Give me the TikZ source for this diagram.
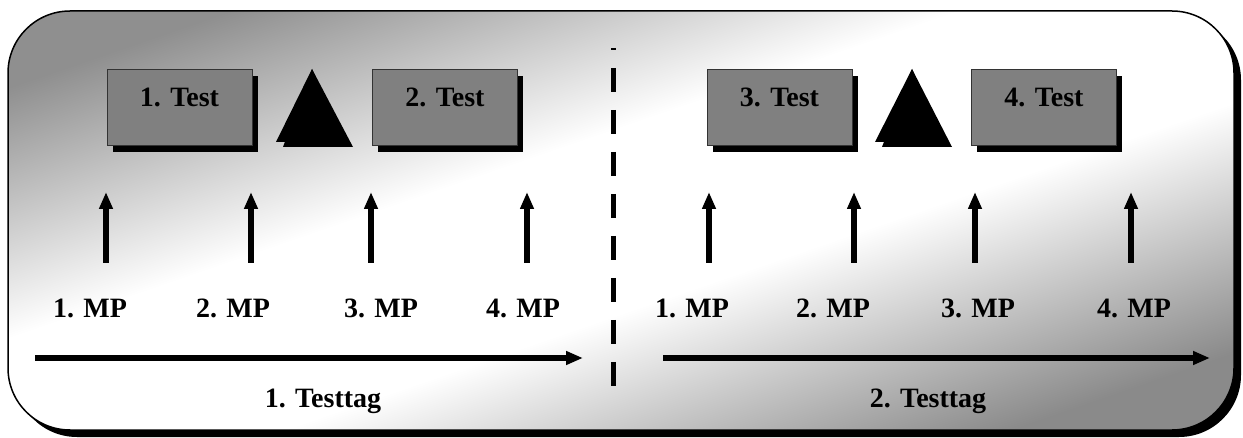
\documentclass[tikz,border=0pt]{standalone}
\usepackage{fontspec}
\setmainfont{Liberation Serif}
\usetikzlibrary{positioning,arrows.meta}
\tikzset{font=\fontsize{28}{32}\selectfont\bfseries}
\pgfdeclareverticalshading{framegrad}{100bp}{color(0bp)=(black!46); color(24bp)=(black!46); color(43bp)=(white); color(57bp)=(white); color(76bp)=(black!44); color(100bp)=(black!44)}

\begin{document}
\begin{tikzpicture}[x=1pt, y=-1pt]
	\tikzstyle{every node}=[align=center, inner sep=0pt]
	\tikzstyle{testbox}=[draw=black!80, line width=1pt, fill=black!50, minimum width=145pt, minimum height=76pt, text height=19pt, text depth=21pt]
	\tikzstyle{boxshadow}=[fill=black]
	\tikzstyle{mparrow}=[line width=6pt, -{Triangle[length=17pt, width=13pt]}]
	\tikzstyle{dayarrow}=[line width=6pt, -{Triangle[length=17pt, width=13pt]}]
	\useasboundingbox (0,0) rectangle (1243,438);

	% frame
	\fill [black, rounded corners=62pt] (15,18) rectangle (1241,437);
	\shade [draw=black, line width=1.5pt, rounded corners=62pt, shading=framegrad, shading angle=19] (8,11) rectangle (1234,430);

	% 1. Testtag
	\fill [boxshadow] (113,76) rectangle (258,152);
	\fill [boxshadow] (378,76) rectangle (523,152);
	\node [testbox] (test1) at (179.5,108) {1. Test};
	\node [testbox] (test2) at (445,108) {2. Test};
	\fill [black] (276,142) -- (346,142) -- (312,69) -- cycle;
	\fill [black] (283,147) -- (353,147) -- (312,69) -- cycle;

	\coordinate (d1mp1a) at (106,263);
	\coordinate (d1mp1b) at (106,192);
	\coordinate (d1mp2a) at (251,263);
	\coordinate (d1mp2b) at (251,192);
	\coordinate (d1mp3a) at (371,263);
	\coordinate (d1mp3b) at (371,192);
	\coordinate (d1mp4a) at (527,263);
	\coordinate (d1mp4b) at (527,192);
	\draw [mparrow] (d1mp1a) to (d1mp1b);
	\draw [mparrow] (d1mp2a) to (d1mp2b);
	\draw [mparrow] (d1mp3a) to (d1mp3b);
	\draw [mparrow] (d1mp4a) to (d1mp4b);

	\node [anchor=base] (d1mp1) at (90,318) {1. MP};
	\node [anchor=base] (d1mp2) at (233,318) {2. MP};
	\node [anchor=base] (d1mp3) at (381,318) {3. MP};
	\node [anchor=base] (d1mp4) at (523,318) {4. MP};

	\coordinate (d1start) at (35,358);
	\coordinate (d1end) at (583,358);
	\draw [dayarrow] (d1start) to (d1end);
	\node [anchor=base] (day1) at (323,407) {1. Testtag};

	% separator
	\coordinate (septop) at (613,48);
	\coordinate (sepbot) at (613,386);
	\draw [line width=5pt, dash pattern=on 24pt off 18pt, dash phase=22pt] (septop) to (sepbot);

	% 2. Testtag
	\fill [boxshadow] (713,76) rectangle (858,152);
	\fill [boxshadow] (977,76) rectangle (1122,152);
	\node [testbox] (test3) at (779.5,108) {3. Test};
	\node [testbox] (test4) at (1044,108) {4. Test};
	\fill [black] (875,142) -- (945,142) -- (912,69) -- cycle;
	\fill [black] (882,147) -- (952,147) -- (912,69) -- cycle;

	\coordinate (d2mp1a) at (709,263);
	\coordinate (d2mp1b) at (709,192);
	\coordinate (d2mp2a) at (854,263);
	\coordinate (d2mp2b) at (854,192);
	\coordinate (d2mp3a) at (975,263);
	\coordinate (d2mp3b) at (975,192);
	\coordinate (d2mp4a) at (1131,263);
	\coordinate (d2mp4b) at (1131,192);
	\draw [mparrow] (d2mp1a) to (d2mp1b);
	\draw [mparrow] (d2mp2a) to (d2mp2b);
	\draw [mparrow] (d2mp3a) to (d2mp3b);
	\draw [mparrow] (d2mp4a) to (d2mp4b);

	\node [anchor=base] (d2mp1) at (692,318) {1. MP};
	\node [anchor=base] (d2mp2) at (833,318) {2. MP};
	\node [anchor=base] (d2mp3) at (978,318) {3. MP};
	\node [anchor=base] (d2mp4) at (1134,318) {4. MP};

	\coordinate (d2start) at (663,358);
	\coordinate (d2end) at (1210,358);
	\draw [dayarrow] (d2start) to (d2end);
	\node [anchor=base] (day2) at (928,407) {2. Testtag};
\end{tikzpicture}
\end{document}
